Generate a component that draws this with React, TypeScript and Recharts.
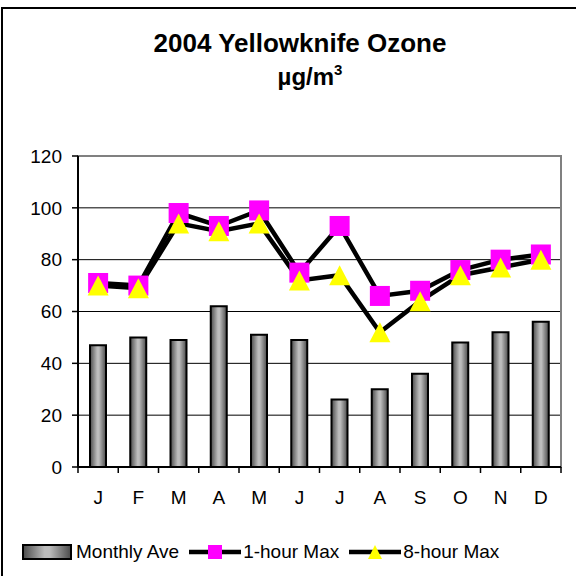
import {
  ComposedChart,
  Bar,
  Line,
  XAxis,
  YAxis,
  CartesianGrid,
  Legend,
  ReferenceArea,
} from 'recharts';

const months = ['J', 'F', 'M', 'A', 'M', 'J', 'J', 'A', 'S', 'O', 'N', 'D'];
const monthlyAve = [47, 50, 49, 62, 51, 49, 26, 30, 36, 48, 52, 56];
const oneHourMax = [71, 70, 98, 93, 99, 75, 93, 66, 68, 76, 80, 82];
const eightHourMax = [70, 69, 94, 91, 94, 72, 74, 52, 64, 74, 77, 80];
const yTicks = [0, 20, 40, 60, 80, 100, 120];
const legendOrder = ['ave', 'h1', 'h8'];

const data = months.map((m, i) => ({
  month: m,
  ave: monthlyAve[i],
  h1: oneHourMax[i],
  h8: eightHourMax[i],
}));

const FONT = '"Liberation Sans", Arial, sans-serif';
const MAGENTA = '#FF00FF';
const YELLOW = '#FFFF00';

function SquareDot(props: any) {
  const { cx, cy } = props;
  if (cx == null || cy == null) return null;
  return <rect x={cx - 10} y={cy - 10} width={20} height={20} fill={MAGENTA} />;
}

function TriangleDot(props: any) {
  const { cx, cy } = props;
  if (cx == null || cy == null) return null;
  return (
    <polygon
      points={`${cx},${cy - 10} ${cx + 10.5},${cy + 10} ${cx - 10.5},${cy + 10}`}
      fill={YELLOW}
    />
  );
}

// excel puts the x ticks between the categories, label in the middle
function MonthTick(props: any) {
  const { x, y, payload, index, visibleTicksCount } = props;
  const half = payload?.offset || 20.1;
  const top = y - 18 - 6;
  const last = index === visibleTicksCount - 1;
  return (
    <g>
      <line x1={x - half} x2={x - half} y1={top} y2={top + 6} stroke="#000" strokeWidth={1.5} />
      {last && <line x1={x + half} x2={x + half} y1={top} y2={top + 6} stroke="#000" strokeWidth={1.5} />}
      <text x={x} y={y} dy="0.71em" textAnchor="middle" fontSize={19} fontFamily={FONT} fill="#000">
        {payload.value}
      </text>
    </g>
  );
}

function LegendIcon({ id }: { id: string }) {
  if (id === 'ave') {
    return (
      <svg width={50} height={16} style={{ marginRight: 4 }}>
        <rect x={1} y={1} width={48} height={14} fill="url(#barGrad)" stroke="#000" strokeWidth={2} />
      </svg>
    );
  }
  return (
    <svg width={52} height={22} style={{ marginRight: 2 }}>
      <line x1={0} x2={52} y1={11} y2={11} stroke="#000" strokeWidth={4.5} />
      {id === 'h1' ? (
        <rect x={19} y={4} width={14} height={14} fill={MAGENTA} />
      ) : (
        <polygon points="26,4 33,18 19,18" fill={YELLOW} />
      )}
    </svg>
  );
}

function renderLegend(props: any) {
  const items = [...(props.payload || [])].sort(
    (a: any, b: any) => legendOrder.indexOf(a.dataKey) - legendOrder.indexOf(b.dataKey)
  );
  return (
    <div style={{ display: 'flex', alignItems: 'center', fontFamily: FONT, fontSize: 19, color: '#000' }}>
      {items.map((p: any) => (
        <div key={p.dataKey} style={{ display: 'flex', alignItems: 'center', marginRight: 10 }}>
          <LegendIcon id={p.dataKey} />
          <span>{p.value}</span>
        </div>
      ))}
    </div>
  );
}

export default function App() {
  return (
    <div style={{ position: 'absolute', left: 0, top: 0, width: 576, height: 576, overflow: 'hidden', background: '#fff' }}>
      <div
        style={{
          position: 'absolute',
          left: 1,
          top: 7,
          width: 640,
          height: 640,
          borderTop: '2px solid #000',
          borderLeft: '2px solid #000',
        }}
      />
      <div
        style={{
          position: 'absolute',
          left: 0,
          top: 26,
          width: 600,
          textAlign: 'center',
          fontFamily: FONT,
          fontWeight: 'bold',
          fontSize: 26,
          lineHeight: '34px',
          color: '#000',
        }}
      >
        <div>2004 Yellowknife Ozone</div>
        <div style={{ paddingLeft: 20, fontSize: 24 }}>
          µg/m<span style={{ fontSize: 15, verticalAlign: 'top', lineHeight: '20px' }}>3</span>
        </div>
      </div>
      <div style={{ position: 'absolute', left: 0, top: 0 }}>
        <ComposedChart
          width={576}
          height={576}
          data={data}
          margin={{ top: 156, right: 15, bottom: 79, left: 0 }}
          barCategoryGap={0}
        >
          <defs>
            <linearGradient id="barGrad" x1="0" y1="0" x2="1" y2="0">
              <stop offset="0%" stopColor="#4a4a4a" />
              <stop offset="45%" stopColor="#bdbdbd" />
              <stop offset="55%" stopColor="#bdbdbd" />
              <stop offset="100%" stopColor="#4a4a4a" />
            </linearGradient>
          </defs>
          <CartesianGrid vertical={false} stroke="#000" strokeWidth={1} />
          <ReferenceArea y1={0} y2={120} fill="none" stroke="#808080" strokeWidth={2} />
          <XAxis
            dataKey="month"
            tickLine={false}
            axisLine={{ stroke: '#000', strokeWidth: 2 }}
            tick={<MonthTick />}
            tickMargin={18}
            tickSize={6}
            interval={0}
          />
          <YAxis
            domain={[0, 120]}
            ticks={yTicks}
            width={78}
            tickSize={6}
            tickMargin={10}
            axisLine={{ stroke: '#000', strokeWidth: 2 }}
            tickLine={{ stroke: '#000', strokeWidth: 1.5 }}
            tick={{ fontSize: 19, fontFamily: FONT, fill: '#000' }}
          />
          <Legend
            layout="horizontal"
            verticalAlign="middle"
            align="center"
            wrapperStyle={{ top: 541, left: 22, width: 560 }}
            content={renderLegend}
          />
          <Bar
            dataKey="ave"
            name="Monthly Ave"
            barSize={16}
            fill="url(#barGrad)"
            stroke="#000"
            strokeWidth={2}
            isAnimationActive={false}
          />
          <Line
            dataKey="h1"
            name="1-hour Max"
            stroke="#000"
            strokeWidth={4.5}
            dot={<SquareDot />}
            activeDot={false}
            isAnimationActive={false}
          />
          <Line
            dataKey="h8"
            name="8-hour Max"
            stroke="#000"
            strokeWidth={4.5}
            dot={<TriangleDot />}
            activeDot={false}
            isAnimationActive={false}
          />
        </ComposedChart>
      </div>
    </div>
  );
}
